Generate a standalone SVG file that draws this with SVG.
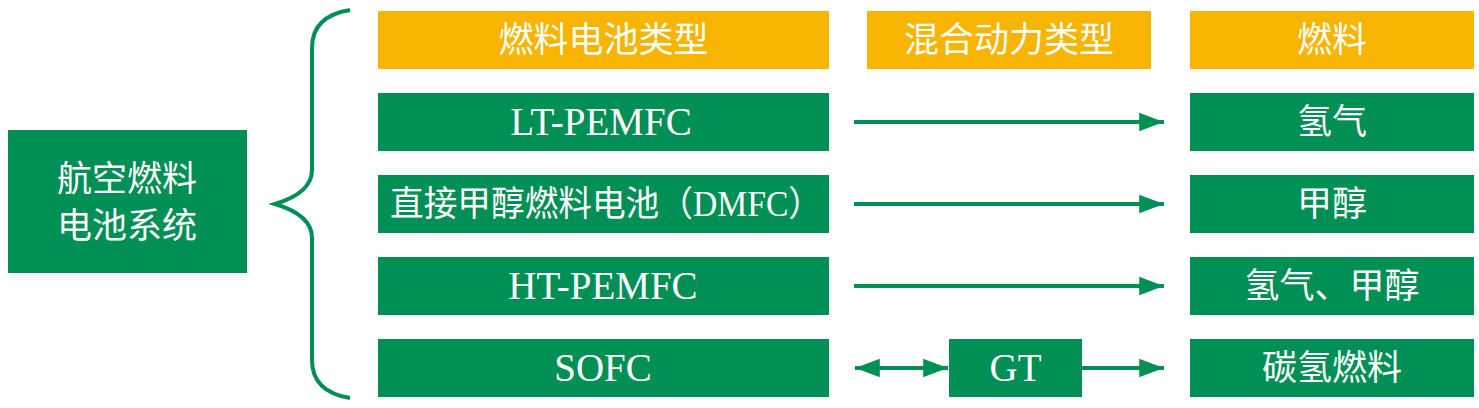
<svg xmlns="http://www.w3.org/2000/svg" width="1479" height="408" viewBox="0 0 1479 408">
<style>
.g{fill:#008F54}
.o{fill:#F7B400}
.t{fill:#ffffff;font-family:"Liberation Serif","Noto Sans CJK SC",serif;font-size:35px;text-anchor:middle}
.l{font-size:39px}
.c{stroke:#008F54;stroke-width:4;fill:none}
</style>
<defs>
<marker id="ah" viewBox="0 0 10 10" refX="10" refY="5" markerWidth="6.2" markerHeight="4.6" markerUnits="strokeWidth" orient="auto-start-reverse" preserveAspectRatio="none">
<path d="M0,0 L10,5 L0,10 Z" fill="#008F54"/>
</marker>
</defs>
<rect width="1479" height="408" fill="#ffffff"/>
<g id="root">
<rect class="g" x="8" y="130" width="239" height="143"/>
<text class="t" x="127" y="191">航空燃料</text>
<text class="t" x="127" y="238">电池系统</text>
</g>
<g id="brace">
<path class="c" d="M350,10 C325,14 312,26 312,48 L312,170 C312,188 295,198 275,204 C295,210 312,220 312,238 L312,360 C312,382 325,394 350,398"/>
</g>
<g id="h1"><rect class="o" x="378" y="11" width="451" height="58"/><text class="t" x="603.5" y="52">燃料电池类型</text></g>
<g id="h2"><rect class="o" x="867" y="11" width="284" height="58"/><text class="t" x="1009" y="52">混合动力类型</text></g>
<g id="h3"><rect class="o" x="1190" y="11" width="284" height="58"/><text class="t" x="1332" y="52">燃料</text></g>
<g id="n1"><rect class="g" x="378" y="93" width="451" height="58"/><text class="t l" x="601" y="135">LT-PEMFC</text></g>
<g id="n2"><rect class="g" x="378" y="175" width="451" height="58"/><text class="t" x="606" y="216" textLength="432" lengthAdjust="spacingAndGlyphs">直接甲醇燃料电池（DMFC）</text></g>
<g id="n3"><rect class="g" x="378" y="257" width="451" height="58"/><text class="t l" x="603" y="299">HT-PEMFC</text></g>
<g id="n4"><rect class="g" x="378" y="339" width="451" height="58"/><text class="t l" x="603" y="381">SOFC</text></g>
<g id="gt"><rect class="g" x="949" y="339" width="133" height="58"/><text class="t l" x="1015.5" y="381">GT</text></g>
<g id="f1"><rect class="g" x="1190" y="93" width="284" height="58"/><text class="t" x="1332" y="134">氢气</text></g>
<g id="f2"><rect class="g" x="1190" y="175" width="284" height="58"/><text class="t" x="1332" y="216">甲醇</text></g>
<g id="f3"><rect class="g" x="1190" y="257" width="284" height="58"/><text class="t" x="1332" y="298">氢气、甲醇</text></g>
<g id="f4"><rect class="g" x="1190" y="339" width="284" height="58"/><text class="t" x="1332" y="380">碳氢燃料</text></g>
<g id="connectors">
<line class="c" x1="854" y1="122" x2="1164" y2="122" marker-end="url(#ah)"/>
<line class="c" x1="854" y1="204" x2="1164" y2="204" marker-end="url(#ah)"/>
<line class="c" x1="854" y1="286" x2="1164" y2="286" marker-end="url(#ah)"/>
<line class="c" x1="855" y1="368" x2="948" y2="368" marker-start="url(#ah)" marker-end="url(#ah)"/>
<line class="c" x1="1082" y1="368" x2="1164" y2="368" marker-end="url(#ah)"/>
</g>
</svg>
